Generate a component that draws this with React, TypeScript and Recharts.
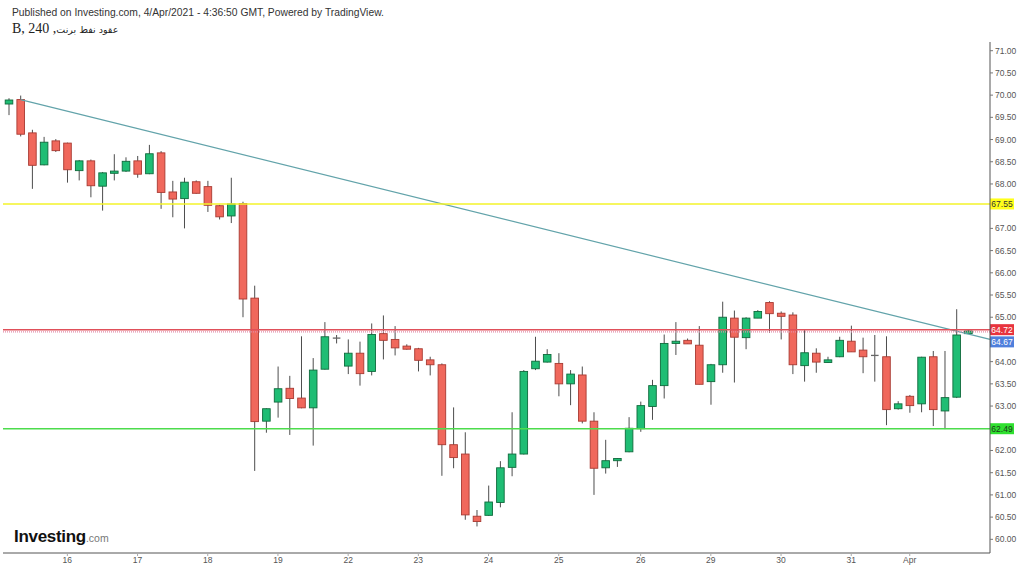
import React from 'react';
import { ComposedChart, Bar, XAxis, YAxis, ReferenceLine } from 'recharts';

// 240-minute candles, Brent futures, 15 Mar – 1 Apr 2021
const OPEN = [
  69.80, 69.90, 69.15, 68.43, 68.97, 68.92, 68.30, 68.52, 67.95, 68.24,
  68.29, 68.52, 68.23, 68.70, 67.82, 67.67, 68.05, 67.94, 67.51, 67.28,
  67.56, 65.43, 62.66, 63.09, 63.40, 63.18, 62.96, 63.83, 64.53, 63.90,
  64.19, 63.78, 64.63, 64.50, 64.35, 64.29, 64.04, 63.93, 62.13, 61.92,
  60.52, 60.54, 60.83, 61.62, 61.92, 63.84, 63.99, 63.96, 63.50, 63.70,
  62.66, 61.61, 61.77, 61.97, 62.49, 62.99, 63.46, 64.41, 64.48, 64.37,
  63.55, 63.93, 64.98, 64.54, 64.98, 65.33, 65.09, 65.05, 63.91, 64.19,
  63.98, 64.11, 64.46, 64.26, 64.14, 64.11, 62.94, 63.22, 63.05, 64.11,
  62.89, 63.20, 64.63,
];
const HIGH = [
  69.93, 69.99, 69.22, 69.06, 69.01, 68.93, 68.54, 68.55, 68.27, 68.67,
  68.60, 68.63, 68.88, 68.74, 68.07, 68.14, 68.08, 68.07, 67.53, 68.14,
  67.60, 65.71, 62.95, 63.89, 63.68, 64.57, 64.08, 64.89, 64.60, 64.50,
  64.45, 64.86, 65.04, 64.80, 64.39, 64.31, 64.11, 63.96, 62.97, 62.41,
  60.66, 61.21, 61.76, 62.86, 63.81, 64.56, 64.28, 64.19, 63.81, 63.89,
  62.86, 62.24, 61.83, 62.75, 63.10, 63.59, 64.61, 64.89, 64.52, 64.80,
  63.95, 65.35, 65.15, 65.00, 65.16, 65.36, 65.13, 65.11, 64.71, 64.30,
  64.11, 64.56, 64.81, 64.54, 64.60, 64.57, 63.11, 63.25, 64.11, 64.24,
  64.24, 65.18, 64.71,
];
const LOW = [
  69.55, 69.07, 67.89, 68.42, 68.72, 68.03, 68.08, 67.70, 67.40, 68.08,
  68.27, 68.14, 68.22, 67.44, 67.25, 67.00, 67.78, 67.37, 67.20, 67.12,
  65.00, 61.54, 62.40, 62.74, 62.35, 62.95, 62.11, 63.82, 64.41, 63.72,
  63.46, 63.69, 64.05, 64.14, 64.27, 63.78, 63.69, 61.43, 61.60, 60.44,
  60.29, 60.53, 60.72, 61.42, 61.91, 63.81, 63.98, 63.22, 63.02, 62.61,
  61.00, 61.48, 61.63, 61.96, 62.42, 62.69, 63.17, 64.15, 64.40, 63.49,
  63.03, 63.75, 63.53, 64.28, 64.98, 64.65, 64.50, 63.72, 63.55, 63.75,
  63.97, 64.10, 64.22, 63.74, 63.55, 62.57, 62.92, 62.85, 62.86, 62.55,
  62.48, 63.18, 64.63,
];
const CLOSE = [
  69.89, 69.12, 68.42, 68.94, 68.75, 68.32, 68.52, 67.96, 68.25, 68.29,
  68.51, 68.22, 68.68, 67.81, 67.66, 68.04, 67.79, 67.52, 67.26, 67.55,
  65.41, 62.65, 62.94, 63.39, 63.17, 62.96, 63.81, 64.56, 64.53, 64.19,
  63.73, 64.61, 64.48, 64.31, 64.28, 64.03, 63.93, 62.13, 61.84, 60.55,
  60.40, 60.84, 61.61, 61.92, 63.78, 64.01, 64.16, 63.50, 63.72, 62.66,
  61.60, 61.77, 61.82, 62.50, 63.01, 63.46, 64.41, 64.46, 64.40, 63.49,
  63.93, 65.00, 64.55, 64.98, 65.13, 65.08, 65.02, 63.93, 64.20, 63.99,
  64.04, 64.48, 64.22, 64.11, 64.14, 62.92, 63.05, 63.01, 64.10, 62.92,
  63.19, 64.60, 64.69,
];

// x-axis day labels and the candle index where each day starts
const DAY_TICKS = [5, 11, 17, 23, 29, 35, 41, 47, 54, 60, 66, 72, 77];
const DAY_LABELS = ['16', '17', '18', '19', '22', '23', '24', '25', '26', '29', '30', '31', 'Apr'];

// right price axis
const PRICE_TICKS = [
  60, 60.5, 61, 61.5, 62, 63, 63.5, 64, 65, 65.5, 66, 66.5, 67, 68, 68.5, 69, 69.5, 70, 70.5, 71,
];
const Y_MIN = 59.692;
const Y_MAX = 71.196;
const X_MIN = -0.5;
const X_MAX = 83.86;

// drawn levels
const YELLOW_LEVEL = 67.55;
const RED_LEVEL = 64.72;
const LAST_PRICE = 64.67;
const GREEN_LEVEL = 62.49;
const TREND_START = { x: 1, y: 69.9 };
const TREND_END = { x: X_MAX, y: 64.5 };

const rows = OPEN.map((o, i) => ({
  i,
  o,
  h: HIGH[i],
  l: LOW[i],
  c: CLOSE[i],
  range: [LOW[i], HIGH[i]],
}));

const UP_FILL = '#1fbd74';
const UP_EDGE = '#0f6a3c';
const DN_FILL = '#f0685c';
const DN_EDGE = '#a83a32';
const WICK = '#4d4d4d';

const Candle = (props: any) => {
  const { x, y, width, height, payload } = props;
  if (payload == null || x == null || y == null) return null;
  const { o, h, l, c } = payload;
  const cx = x + width / 2;
  const span = h - l;
  const toY = (v: number) => (span === 0 ? y : y + ((h - v) / span) * height);
  const top = toY(Math.max(o, c));
  const bot = toY(Math.min(o, c));
  const bw = 7.6;
  const up = c > o;
  return (
    <g>
      <line x1={cx} x2={cx} y1={y} y2={y + height} stroke={WICK} strokeWidth={1} />
      {o === c ? (
        <line x1={cx - bw / 2} x2={cx + bw / 2} y1={top} y2={top} stroke="#666" strokeWidth={1.3} />
      ) : (
        <rect
          x={cx - bw / 2}
          y={top}
          width={bw}
          height={Math.max(bot - top, 1.5)}
          fill={up ? UP_FILL : DN_FILL}
          stroke={up ? UP_EDGE : DN_EDGE}
          strokeWidth={0.9}
        />
      )}
    </g>
  );
};

const priceTag = (text: string, bg: string, fg: string, dy = 0) => (props: any) => {
  const vb = props.viewBox || {};
  const px = (vb.x || 0) + (vb.width || 0);
  const py = (vb.y || 0) + dy;
  return (
    <g>
      <rect x={px} y={py - 5.5} width={24} height={11} fill={bg} />
      <text
        x={px + 12}
        y={py}
        dy="0.35em"
        textAnchor="middle"
        fontSize={8.5}
        fontFamily="'Liberation Sans', Arial, sans-serif"
        fill={fg}
      >
        {text}
      </text>
    </g>
  );
};

export default function App() {
  return (
    <div
      style={{
        position: 'absolute',
        left: 0,
        top: 0,
        width: 1024,
        height: 571,
        background: '#ffffff',
        overflow: 'hidden',
      }}
    >
      <ComposedChart
        width={1024}
        height={571}
        data={rows}
        margin={{ top: 42, right: 0, bottom: 0, left: 3 }}
      >
        <XAxis
          dataKey="i"
          type="number"
          domain={[X_MIN, X_MAX]}
          allowDataOverflow
          ticks={DAY_TICKS}
          interval={0}
          tickFormatter={(v: number) => DAY_LABELS[DAY_TICKS.indexOf(v)] ?? ''}
          height={18}
          axisLine={{ stroke: '#555', strokeWidth: 1 }}
          tickLine={{ stroke: '#aaa' }}
          tickSize={3}
          tickMargin={1}
          tick={{ fontSize: 8.5, fill: '#555', fontFamily: "'Liberation Sans', Arial, sans-serif" }}
        />
        <YAxis
          orientation="right"
          width={34}
          type="number"
          domain={[Y_MIN, Y_MAX]}
          allowDataOverflow
          ticks={PRICE_TICKS}
          interval={0}
          tickFormatter={(v: number) => v.toFixed(2)}
          axisLine={{ stroke: '#555', strokeWidth: 1 }}
          tickLine={{ stroke: '#777' }}
          tickSize={3}
          tickMargin={2}
          tick={{ fontSize: 8.5, fill: '#555', fontFamily: "'Liberation Sans', Arial, sans-serif" }}
        />
        <Bar dataKey="range" barSize={8} shape={Candle} isAnimationActive={false} />
        <ReferenceLine
          segment={[TREND_START, TREND_END]}
          stroke="#62a3aa"
          strokeWidth={1.2}
          ifOverflow="visible"
        />
        <ReferenceLine
          y={YELLOW_LEVEL}
          stroke="#f3f32a"
          strokeWidth={1.6}
          label={priceTag(YELLOW_LEVEL.toFixed(2), '#ffff1a', '#333', 0)}
        />
        <ReferenceLine
          y={GREEN_LEVEL}
          stroke="#4ddc4d"
          strokeWidth={1.6}
          label={priceTag(GREEN_LEVEL.toFixed(2), '#2fe02f', '#1a3a1a', 0)}
        />
        <ReferenceLine
          y={LAST_PRICE}
          stroke="#e38aa8"
          strokeWidth={1.2}
          strokeDasharray="1 1"
          label={priceTag(LAST_PRICE.toFixed(2), '#4f7fdc', '#ffffff', 10)}
        />
        <ReferenceLine
          y={RED_LEVEL}
          stroke="#e0505a"
          strokeWidth={1.5}
          label={priceTag(RED_LEVEL.toFixed(2), '#e8343e', '#ffffff', 0)}
        />
      </ComposedChart>

      <div
        style={{
          position: 'absolute',
          left: 12,
          top: 7,
          fontFamily: "'Liberation Sans', Arial, sans-serif",
          fontSize: 10.3,
          lineHeight: '12px',
          color: '#333',
          whiteSpace: 'nowrap',
        }}
      >
        Published on Investing.com, 4/Apr/2021 - 4:36:50 GMT, Powered by TradingView.
      </div>
      <div
        style={{
          position: 'absolute',
          left: 12,
          top: 21,
          fontFamily: "'Liberation Serif', 'Times New Roman', serif",
          fontSize: 14,
          lineHeight: '16px',
          color: '#222',
          whiteSpace: 'nowrap',
        }}
      >
        B, 240 ,<span style={{ fontSize: 9.5, fontFamily: "'DejaVu Sans', sans-serif" }}>عقود نفط برنت</span>
      </div>
      <div
        style={{
          position: 'absolute',
          left: 14,
          top: 528,
          whiteSpace: 'nowrap',
          fontFamily: "'Liberation Sans', Arial, sans-serif",
          lineHeight: '18px',
        }}
      >
        <span style={{ fontSize: 17, fontWeight: 700, color: '#111', letterSpacing: -0.3 }}>Investing</span>
        <span style={{ fontSize: 10.5, color: '#777' }}>.com</span>
      </div>
    </div>
  );
}
